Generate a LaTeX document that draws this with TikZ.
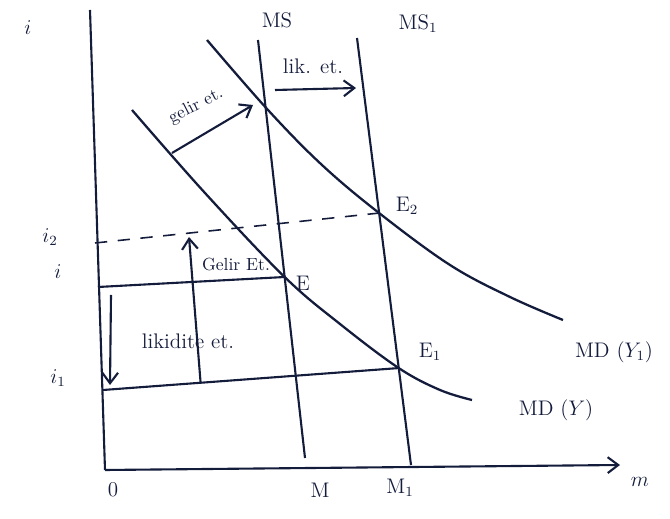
\documentclass[tikz,border=0pt]{standalone}
\usepackage{amsmath,amssymb}
\usepackage{tikz}
\usetikzlibrary{arrows.meta,positioning,calc}
\definecolor{ink}{HTML}{141C3C}
\tikzset{
  lbl/.style={text=ink, font=\large, inner sep=1pt},
  small lbl/.style={text=ink, font=\normalsize, inner sep=1pt},
  curve/.style={draw=ink, line width=1.3pt}
}

\begin{document}
\begin{tikzpicture}[>={Straight Barb[length=6pt,width=9pt]}, x=0.02cm, y=-0.02cm, line width=1.2pt, draw=ink]
\useasboundingbox (0,0) rectangle (670,519);
% axes
\coordinate (ytop) at (90,10);
\coordinate (O) at (105,470);
\coordinate (xend) at (620,465);
\draw[ink] (ytop) -- (O);
\draw[ink,->] (O) -- (xend);
\node[lbl] (ilab) at (28,28) {$i$};
\node[lbl] (mlab) at (640,482) {$m$};
\node[lbl] (olab) at (113,490) {$0$};
% money supply
\coordinate (MStop) at (258,40);
\coordinate (MSbot) at (305,458);
\coordinate (MSatop) at (357,38);
\coordinate (MSabot) at (411,465);
\draw[ink] (MStop) -- (MSbot);
\draw[ink] (MSatop) -- (MSabot);
\node[lbl] (MSlab) at (277,20) {MS};
\node[lbl] (MSalab) at (418,24) {MS$_1$};
\node[lbl] (Mlab) at (320,490) {M};
\node[lbl] (Malab) at (400,488) {M$_1$};
% equilibria
\coordinate (E) at ($(MStop)!0.567!(MSbot)$);
\coordinate (Ea) at ($(MSatop)!0.773!(MSabot)$);
\coordinate (Eb) at ($(MSatop)!0.41!(MSabot)$);
\node[lbl] (Elab) at (303,283) {E};
\node[lbl] (Ealab) at (430,352) {E$_1$};
\node[lbl] (Eblab) at (407,206) {E$_2$};
% money demand
\draw[curve] plot[smooth, tension=0.6] coordinates {(132,110) (205,193) (E) (340,324) (Ea) (440,390) (472,400)};
\draw[curve] plot[smooth, tension=0.6] coordinates {(207,40) (268,110) (322,165) (Eb) (450,265) (510,297) (563,320)};
\node[lbl] (MDlab) at (556,410) {MD ($Y$)};
\node[lbl] (MDalab) at (614,352) {MD ($Y_1$)};
% interest levels
\coordinate (yi) at (98,287);
\coordinate (yia) at (103,390);
\coordinate (yib) at (95,243);
\draw[ink] (yi) -- (E);
\draw[ink] (yia) -- (Ea);
\draw[ink, dashed, line width=0.9pt, dash pattern=on 7pt off 6pt] (yib) -- (Eb);
\node[lbl] (iblab) at (50,237) {$i_2$};
\node[lbl] (ilevel) at (58,272) {$i$};
\node[lbl] (ialab) at (58,378) {$i_1$};
% effects
\coordinate (g1) at (172,153);
\coordinate (g2) at (253,105);
\draw[ink,->] (g1) -- (g2);
\node[small lbl, rotate=27] (gelir) at (196,106) {gelir et.};
\coordinate (l1) at (275,90);
\coordinate (l2) at (356,88);
\draw[ink,->] (l1) -- (l2);
\node[lbl] (lik) at (313,66) {lik. et.};
\coordinate (u1) at ($(yia)!0.33!(Ea)$);
\coordinate (u2) at (189,237);
\draw[ink,->] (u1) -- (u2);
\node[small lbl] (gelirb) at (236,265) {Gelir Et.};
\coordinate (d1) at (111,295);
\coordinate (d2) at (110,385);
\draw[ink,->] (d1) -- (d2);
\node[lbl] (likb) at (188,341) {likidite et.};
\end{tikzpicture}
\end{document}
